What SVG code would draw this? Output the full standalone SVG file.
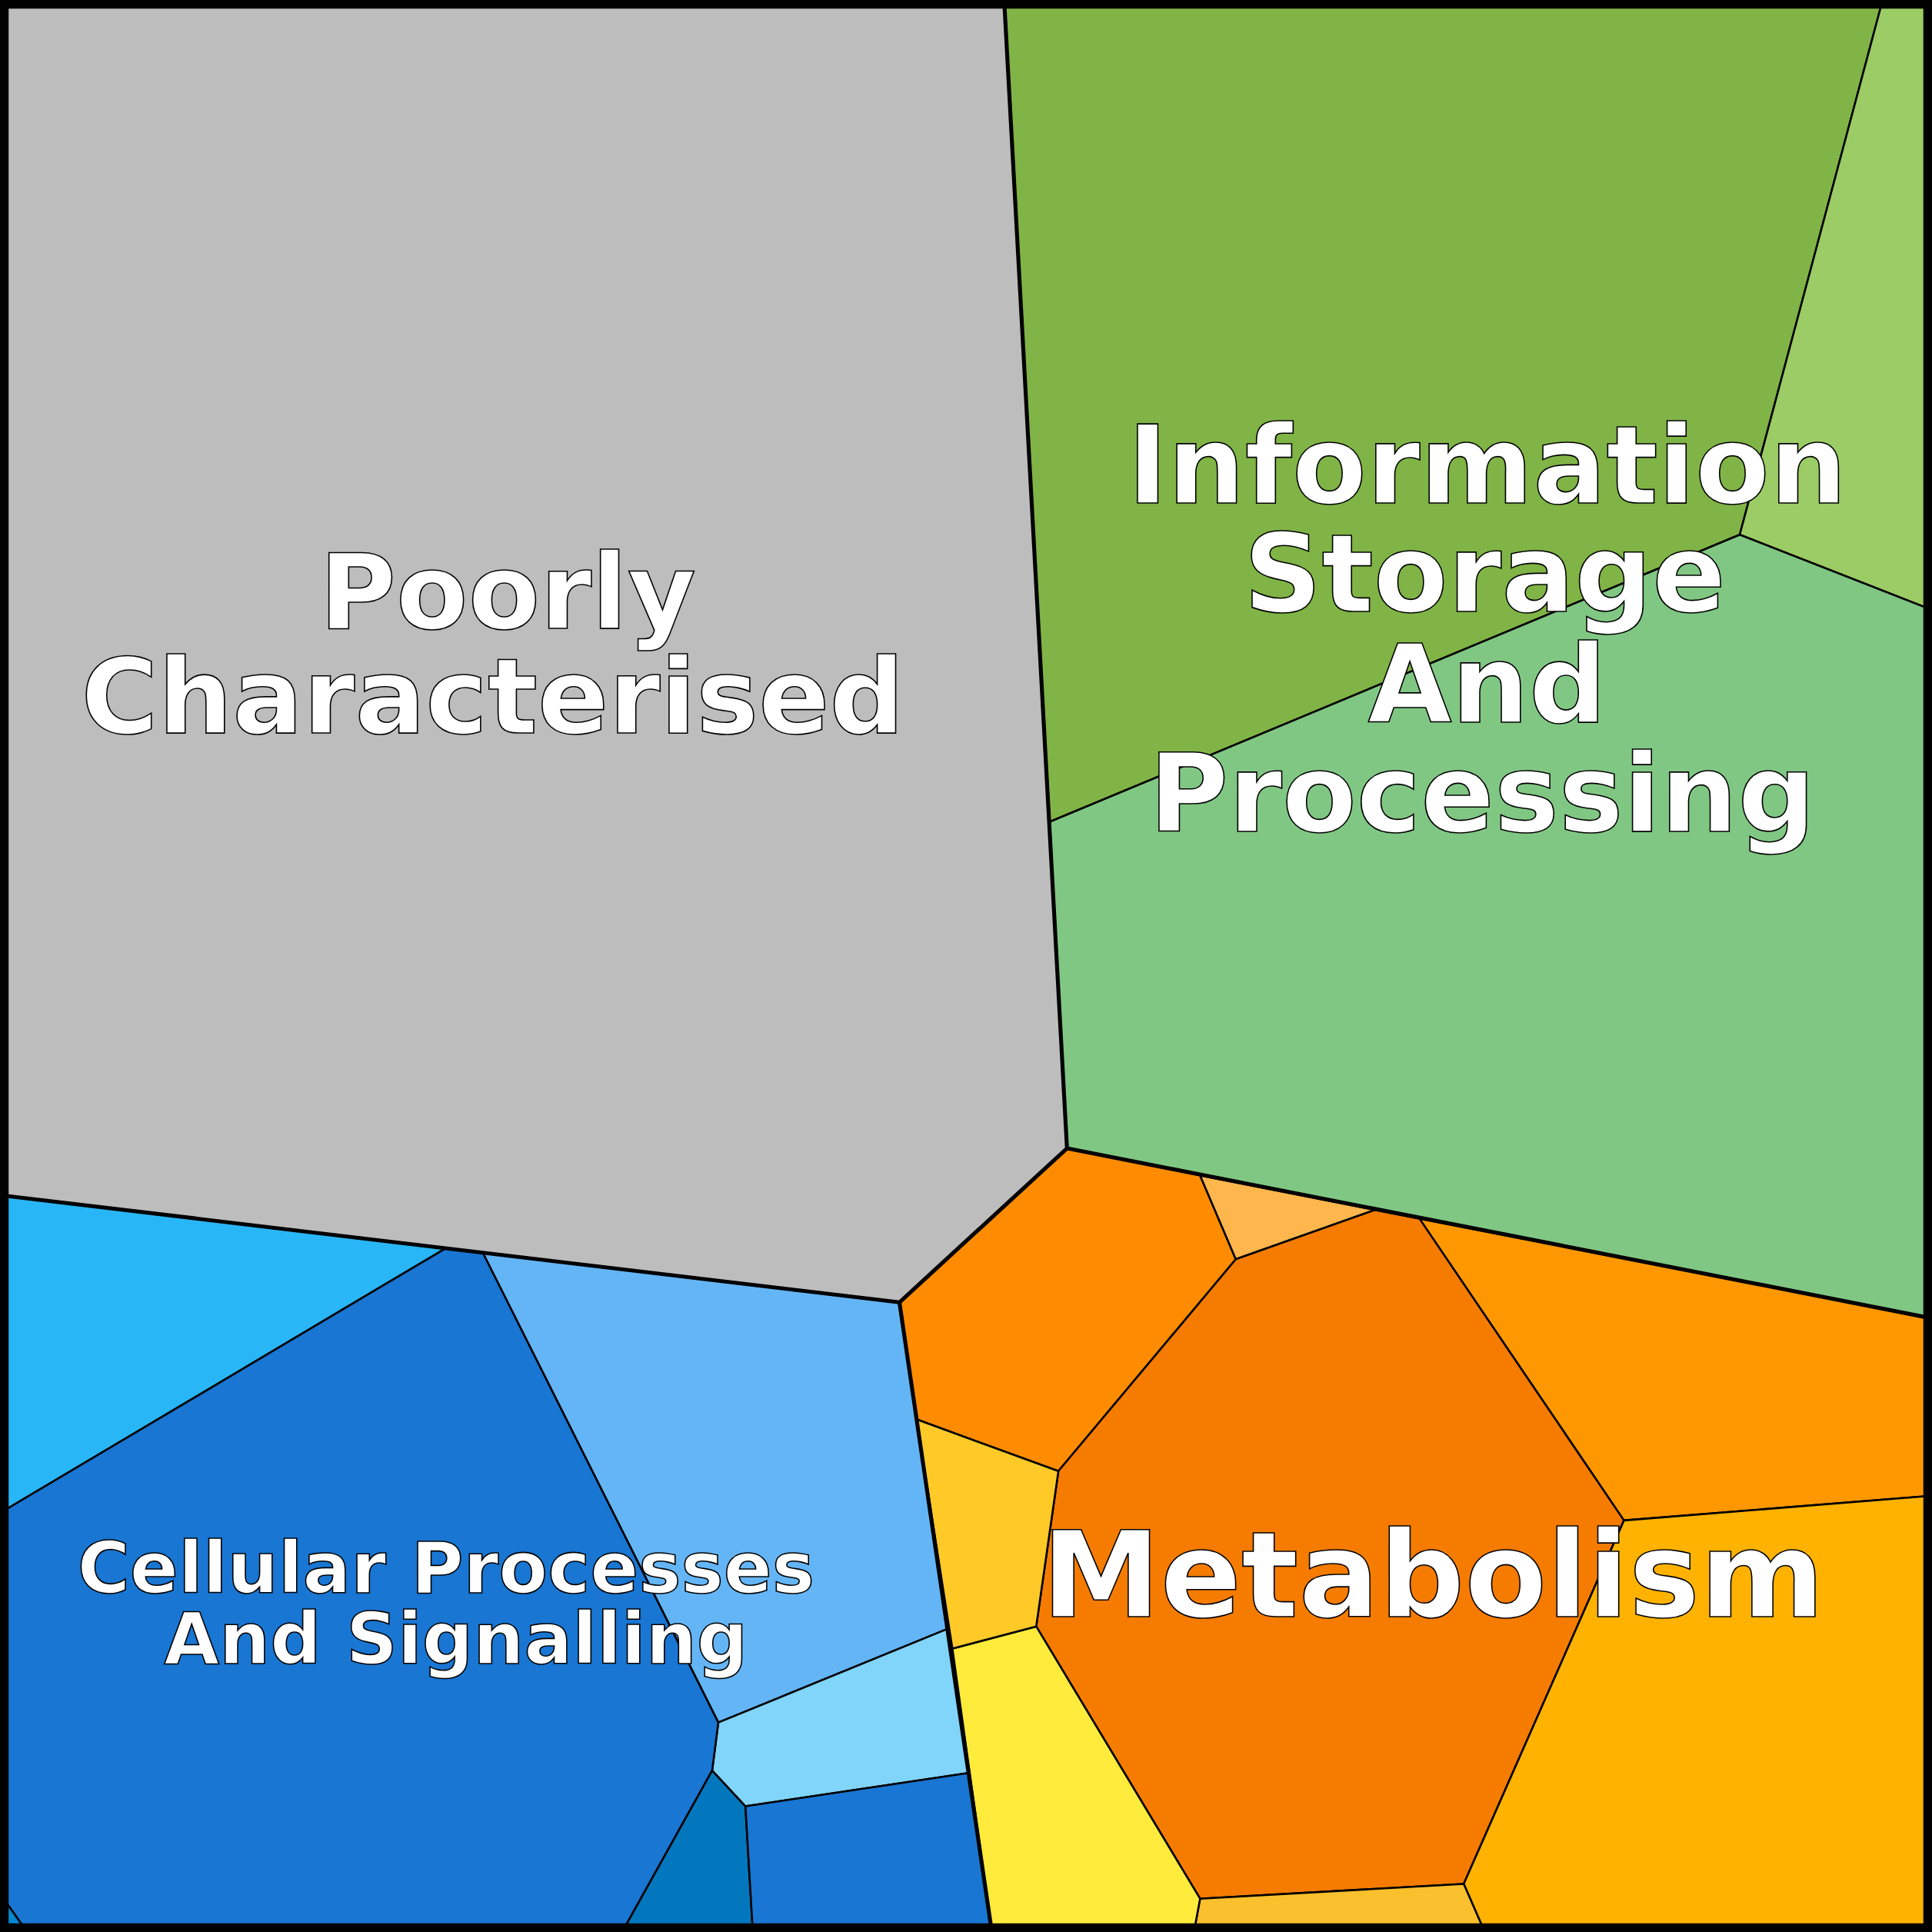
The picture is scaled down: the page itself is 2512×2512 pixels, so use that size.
<svg xmlns="http://www.w3.org/2000/svg" width="2512" height="2512" viewBox="0 0 2512 2512">
<style>
.c{stroke:#000;stroke-width:1.6;stroke-linejoin:round}
.b{fill:none;stroke:#000;stroke-width:3.2;stroke-linejoin:round}
text{font-family:"DejaVu Sans",sans-serif;font-weight:bold;fill:#fff;stroke:#000;stroke-width:1;text-anchor:middle}
</style>
<g transform="scale(1.602)">
<g id="cells">
<polygon id="poorly" class="c" fill="#bdbdbd" points="0,0 815,0 866,932 730,1057 392,1017 362,1013 0,970"/>
<polygon id="info1" class="c" fill="#80b446" points="815,0 1528,0 1412,434 852,667"/>
<polygon id="info2" class="c" fill="#9ccc65" points="1528,0 1568,0 1568,495 1412,434"/>
<polygon id="info3" class="c" fill="#81c784" points="852,667 1412,434 1568,495 1568,1070 866,932"/>
<polygon id="met1" class="c" fill="#ff8c00" points="866,932 974,954 1003,1022 859,1194 744,1152 730,1057"/>
<polygon id="met2" class="c" fill="#ffb74d" points="974,954 1116,982 1003,1022"/>
<polygon id="met3" class="c" fill="#ff9800" points="1152,989 1568,1070 1568,1214 1318,1234"/>
<polygon id="met4" class="c" fill="#f57c00" points="1003,1022 1116,982 1152,989 1318,1234 1188,1529 974,1541 841,1320 859,1194"/>
<polygon id="met5" class="c" fill="#ffb300" points="1318,1234 1568,1214 1568,1568 1205,1568 1188,1529"/>
<polygon id="met6" class="c" fill="#fbc02d" points="974,1541 1188,1529 1205,1568 969,1568"/>
<polygon id="met7" class="c" fill="#ffeb3b" points="773,1338 841,1320 974,1541 969,1568 805,1568"/>
<polygon id="met8" class="c" fill="#ffca28" points="744,1152 859,1194 841,1320 773,1338"/>
<polygon id="cel1" class="c" fill="#64b5f6" points="392,1017 730,1057 769,1322 583,1398"/>
<polygon id="cel2" class="c" fill="#81d4fa" points="583,1398 769,1322 786,1439 605,1466 578,1437"/>
<polygon id="cel3" class="c" fill="#29b6f6" points="0,970 362,1013 0,1228"/>
<polygon id="cel4" class="c" fill="#1976d2" points="0,1228 362,1013 392,1017 583,1398 578,1437 505,1568 22,1568 0,1537"/>
<polygon id="cel5" class="c" fill="#0288d1" points="0,1537 22,1568 0,1568"/>
<polygon id="cel6" class="c" fill="#0277bd" points="578,1437 605,1466 611,1568 505,1568"/>
<polygon id="cel7" class="c" fill="#1976d2" points="605,1466 786,1439 805,1568 611,1568"/>
</g>
<g id="connectors">
<polyline class="b" points="815,0 866,932 730,1057 0,970"/>
<polyline class="b" points="866,932 1568,1070"/>
<polyline class="b" points="730,1057 805,1568"/>
<rect x="3.5" y="3.5" width="1561" height="1561" fill="none" stroke="#000" stroke-width="7"/>
</g>
<g id="labels">
<text font-size="85" x="412" y="510">Poorly</text>
<text font-size="85" x="400" y="595">Characterised</text>
<text font-size="88" x="1207" y="408">Information</text>
<text font-size="88" x="1205" y="496">Storage</text>
<text font-size="88" x="1207" y="586">And</text>
<text font-size="88" x="1203" y="675">Processing</text>
<text font-size="97" x="1163" y="1312">Metabolism</text>
<text font-size="58" x="362" y="1293">Cellular Processes</text>
<text font-size="58" x="370" y="1350">And Signalling</text>
</g>
</g>
</svg>
